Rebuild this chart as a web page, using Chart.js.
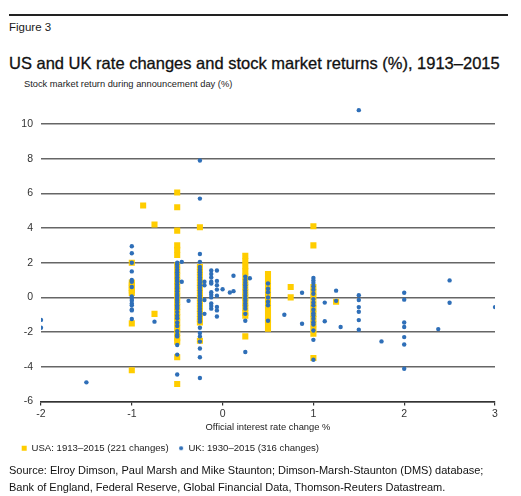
<!DOCTYPE html>
<html>
<head>
<meta charset="utf-8">
<script src="https://cdn.jsdelivr.net/npm/chart.js@4.4.0/dist/chart.umd.min.js"></script>
<style>
body { margin: 0; background: #fff; font-family: "Liberation Sans", Arial, sans-serif; color: #1a1a1a; }
#page { position: relative; width: 521px; height: 496px; overflow: hidden; }
.rule { position: absolute; left: 9px; top: 14px; width: 499px; height: 2px; background: #222; }
.t { position: absolute; left: 9px; line-height: 1; white-space: nowrap; }
#fig { top: 22.3px; font-size: 11.5px; }
#title { top: 54.5px; font-size: 16.5px; color: #111; -webkit-text-stroke: 0.3px #111; }
#ytitle { left: 24px; top: 80px; font-size: 9.3px; color: #222; }
#source { top: 462px; font-size: 11px; line-height: 17px; color: #111; }
#chart { position: absolute; left: 0; top: 100px; }
</style>
</head>
<body>
<div id="page">
  <div class="rule"></div>
  <div class="t" id="fig">Figure 3</div>
  <div class="t" id="title">US and UK rate changes and stock market returns (%), 1913–2015</div>
  <div class="t" id="ytitle">Stock market return during announcement day (%)</div>
  <canvas id="chart" width="521" height="363"></canvas>
  <div class="t" id="source">Source: Elroy Dimson, Paul Marsh and Mike Staunton; Dimson-Marsh-Staunton (DMS) database;<br>Bank of England, Federal Reserve, Global Financial Data, Thomson-Reuters Datastream.</div>
</div>
<script>
// USA: rate change levels and the returns seen at each level
var usaRates = [-1, -0.875, -0.75, -0.5, -0.25, 0.25, 0.5, 0.75, 1, 1.25];
var usaReturns = [
  [2.0, 0.85, 0.7, 0.55, 0.4, 0.25, -1.5, -4.2],
  [5.3],
  [4.2, -0.95],
  [6.05, 5.2, 3.85, 3.0, 2.75, 2.45, 1.85, 1.55, 1.25, 0.95, 0.65, 0.35, 0.05, -0.25, -0.55, -0.85, -1.15, -1.45, -1.75, -2.05, -2.35, -2.55, -3.45, -5.0],
  [4.05, 1.75, 1.45, 1.15, 0.85, 0.55, 0.25, -0.05, -0.35, -0.65, -0.95, -1.25, -1.45, -2.5],
  [2.4, 2.1, 1.8, 1.5, 1.2, 0.9, 0.6, 0.3, 0.0, -0.3, -0.6, -0.9, -1.05, -2.25],
  [1.35, 1.05, 0.75, 0.45, 0.15, -0.15, -0.45, -0.75, -1.05, -1.35, -1.5, -1.8],
  [0.6, 0.0],
  [4.1, 3.0, 0.6, 0.3, 0.0, -0.35, -0.65, -0.95, -1.25, -1.55, -1.85, -2.1, -3.5],
  [-0.25]
];

// UK
var ukRates = [-2, -1.5, -1, -0.75, -0.5, -0.45, -0.375, -0.25, -0.2, -0.125, -0.0625, 0, 0.08, 0.12, 0.25, 0.3, 0.5, 0.68, 0.875, 1, 1.125, 1.25, 1.3, 1.5, 1.75, 2, 2.375, 2.5, 3];
var ukReturns = [
  [-1.3, -1.75],
  [-4.9],
  [2.95, 2.55, 2.0, 1.5, 1.0, 0.9, 0.6, 0.05, -0.1, -0.2, -0.35, -0.45, -0.7, -0.75, -1.25],
  [-1.4],
  [2.0, 1.9, 1.75, 1.6, 1.45, 1.3, 1.15, 1.0, 0.9, 0.75, 0.6, 0.5, 0.35, 0.2, 0.1, 0.0, -0.1, -0.2, -0.3, -0.45, -0.55, -0.65, -0.85, -1.05, -1.2, -1.45, -1.65, -1.95, -2.15, -2.25, -2.75, -3.3, -4.45],
  [2.05, 0.9],
  [-0.2],
  [7.9, 5.7, 2.5, 2.05, 1.75, 1.6, 1.45, 1.3, 1.15, 1.0, 0.85, 0.7, 0.55, 0.4, 0.25, 0.1, -0.05, -0.2, -0.35, -0.5, -0.65, -0.8, -0.95, -1.1, -1.25, -1.4, -1.75, -2.05, -2.25, -2.55, -2.95, -3.45, -4.65],
  [0.9, 0.7, -0.15, -0.95],
  [1.55, 1.35, 1.15, 0.9, 0.8, 0.3, 0.15, 0.0, -0.35, -0.5, -0.65],
  [1.55, 0.95, 0.7, 0.45, 0.1, -0.55, -0.75, -1.1],
  [0.47],
  [0.28],
  [0.36, 1.25],
  [1.2, 1.0, 0.85, 0.7, 0.55, 0.4, 0.25, 0.1, -0.05, -0.2, -0.35, -0.5, -0.65, -0.95, -1.35, -3.15],
  [1.1],
  [0.8, 0.5, 0.3, 0.0, -0.25, -0.45, -1.35],
  [-1.0],
  [0.27, -1.52],
  [1.12, 0.98, 0.83, 0.64, 0.44, 0.21, -0.1, -0.3, -0.46, -0.71, -0.91, -1.04, -1.23, -1.43, -1.56, -1.91, -2.45, -3.6],
  [-0.3, -1.38],
  [0.39, -0.2],
  [-1.71],
  [10.8, 0.12, -0.15, -0.56, -0.83, -1.31, -1.87],
  [-2.54],
  [0.27, -0.13, -1.45, -1.71, -2.29, -2.72, -4.12],
  [-1.83],
  [0.98, -0.31],
  [-0.56]
];

var yellow = "#ffcd00";
var blue = "#2f6fb8";

function toPoints(rates, returns) {
  var pts = [];
  rates.forEach(function (r, i) {
    returns[i].forEach(function (v) { pts.push({ x: r, y: v }); });
  });
  return pts;
}

// small dot for the UK legend entry
var dot = document.createElement("canvas");
dot.width = 6; dot.height = 6;
var dc = dot.getContext("2d");
dc.fillStyle = blue;
dc.beginPath(); dc.arc(3, 3, 2.1, 0, Math.PI * 2); dc.fill();

Chart.defaults.font.family = '"Liberation Sans", Arial, sans-serif';

var ctx = document.getElementById("chart");
var chart = new Chart(ctx, {
  type: "scatter",
  data: {
    datasets: [
      {
        label: "USA: 1913–2015 (221 changes)",
        data: toPoints(usaRates, usaReturns),
        backgroundColor: yellow,
        borderWidth: 0,
        pointStyle: "rect",
        pointRadius: 4.3,
        order: 1
      },
      {
        label: "UK: 1930–2015 (316 changes)",
        data: toPoints(ukRates, ukReturns),
        backgroundColor: blue,
        borderWidth: 0,
        pointStyle: "circle",
        pointRadius: 2.2,
        order: 0
      }
    ]
  },
  options: {
    responsive: false,
    animation: false,
    layout: { padding: { left: 11.7, right: 26, top: 6.7, bottom: 0 } },
    plugins: {
      tooltip: { enabled: false },
      legend: {
        position: "bottom",
        align: "start",
        labels: {
          usePointStyle: true,
          boxWidth: 5,
          boxHeight: 5,
          padding: 10,
          color: "#222",
          font: { size: 9.6 },
          generateLabels: function (c) {
            var items = Chart.defaults.plugins.legend.labels.generateLabels(c);
            items.sort(function (a, b) { return a.datasetIndex - b.datasetIndex; });
            items.forEach(function (it) {
              it.lineWidth = 0;
              if (it.datasetIndex === 1) it.pointStyle = dot;
            });
            return items;
          }
        }
      }
    },
    scales: {
      x: {
        type: "linear",
        min: -2,
        max: 3,
        ticks: { stepSize: 1, color: "#333", font: { size: 10.5 }, padding: 2 },
        grid: { drawOnChartArea: false, drawTicks: true, tickLength: 4, color: "#333", lineWidth: 1.2 },
        border: { color: "#333", width: 1.5 },
        title: { display: true, text: "Official interest rate change %", color: "#222", font: { size: 9.4 }, padding: { top: 0, bottom: 0 } },
        afterFit: function (s) { s.height = 32; }
      },
      y: {
        min: -6,
        max: 11,
        ticks: { stepSize: 2, color: "#333", font: { size: 10.5 }, padding: 8 },
        grid: { color: "#666", lineWidth: 1.6, drawTicks: false },
        border: { display: false },
        afterBuildTicks: function (s) { s.ticks = s.ticks.filter(function (t) { return t.value <= 10; }); },
        afterFit: function (s) { s.width = 29.3; s.paddingTop = 0; s.paddingBottom = 0; }
      }
    }
  }
});
</script>
</body>
</html>
